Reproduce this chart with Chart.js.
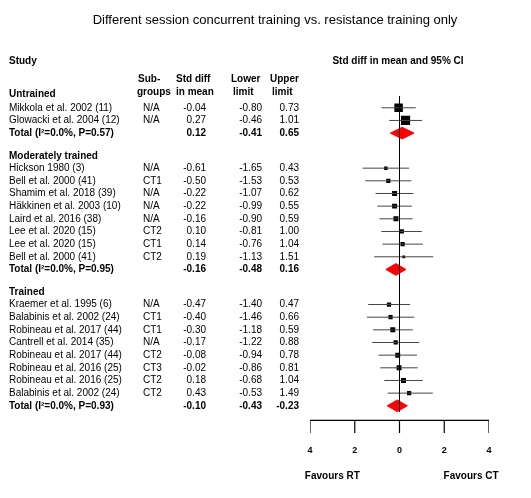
<!DOCTYPE html><html><head><meta charset="utf-8">
<script src="https://cdn.jsdelivr.net/npm/chart.js@4"></script>
<style>html,body{margin:0;background:#fff}#w{width:531px;height:498px}</style></head><body><div id="w"><canvas id="c"></canvas></div>
<script>
const studies=["Mikkola et al. 2002 (11)","Glowacki et al. 2004 (12)","Hickson 1980 (3)","Bell et al. 2000 (41)","Shamim et al. 2018 (39)","Häkkinen et al. 2003 (10)","Laird et al. 2016 (38)","Lee et al. 2020 (15)","Lee et al. 2020 (15)","Bell et al. 2000 (41)","Kraemer et al. 1995 (6)","Balabinis et al. 2002 (24)","Robineau et al. 2017 (44)","Cantrell et al. 2014 (35)","Robineau et al. 2017 (44)","Robineau et al. 2016 (25)","Robineau et al. 2016 (25)","Balabinis et al. 2002 (24)"];
const subgroups=["N/A","N/A","N/A","CT1","N/A","N/A","N/A","CT2","CT1","CT2","N/A","CT1","CT1","N/A","CT2","CT3","CT2","CT2"];
const smd=[-0.04,0.27,-0.61,-0.50,-0.22,-0.22,-0.16,0.10,0.14,0.19,-0.47,-0.40,-0.30,-0.17,-0.08,-0.02,0.18,0.43];
const lower=[-0.80,-0.46,-1.65,-1.53,-1.07,-0.99,-0.90,-0.81,-0.76,-1.13,-1.40,-1.46,-1.18,-1.22,-0.94,-0.86,-0.68,-0.53];
const upper=[0.73,1.01,0.43,0.53,0.62,0.55,0.59,1.00,1.04,1.51,0.47,0.66,0.59,0.88,0.78,0.81,1.04,1.49];
const sizes=[12,13,5,6,7,7,7,6,6,4,6,6,7,6,7,7,7,6];
const rows=[104,117,166,179,192,205,218,231,244,257,306,319,332,345,358,371,384,397];
const groups=["Untrained","Moderately trained","Trained"];
const groupRows=[90,154,293];
const totLabels=["Total (I\u00b2=0.0%, P=0.57)","Total (I\u00b2=0.0%, P=0.95)","Total (I\u00b2=0.0%, P=0.93)"];
const totSmd=[0.12,-0.16,-0.10];
const totLow=[-0.41,-0.48,-0.43];
const totUp=[0.65,0.16,-0.23];
const totRows=[130,270,410];
const ticks=[-4,-2,0,2,4];
const tickLabels=["4","2","0","2","4"];

const ds=[];
ds.push({type:'line',data:[{x:0,y:92},{x:0,y:416}],borderColor:'#000',borderWidth:1,pointRadius:0});
studies.forEach((s,i)=>ds.push({type:'line',data:[{x:lower[i],y:rows[i]},{x:upper[i],y:rows[i]}],borderColor:'#444',borderWidth:1,pointRadius:0}));
ds.push({type:'scatter',data:smd.map((v,i)=>({x:v,y:rows[i]})),pointStyle:'rect',pointRadius:sizes.map(s=>s/2),backgroundColor:'#000',borderColor:'#000',borderWidth:0});
totSmd.forEach((v,i)=>{
 const lo=Math.min(totLow[i],v-0.45),hi=Math.max(totUp[i],v+0.45);
 ds.push({type:'line',data:[{x:lo,y:totRows[i]},{x:v,y:totRows[i]-6},{x:hi,y:totRows[i]},{x:v,y:totRows[i]+6},{x:lo,y:totRows[i]}],borderColor:'#f00',backgroundColor:'#f00',fill:'shape',borderWidth:1,pointRadius:0,tension:0});});
ds.push({type:'line',data:[{x:-4,y:425},{x:4,y:425}],borderColor:'#000',borderWidth:1.2,pointRadius:0});
ticks.forEach(t=>ds.push({type:'line',data:[{x:t,y:425},{x:t,y:438}],borderColor:'#000',borderWidth:1.2,pointRadius:0}));

const textPlugin={id:'txt',afterDraw(ch){const c=ch.ctx,X=ch.scales.x,Y=ch.scales.y;c.save();c.fillStyle='#000';c.textBaseline='middle';
 const F=(b,s)=>c.font=(b?'bold ':'')+(s||10)+'px "Liberation Sans", Arial, sans-serif';
 const T=(t,x,y,a,b,s)=>{F(b,s);c.textAlign=a||'left';c.fillText(t,x,Y.getPixelForValue(y));};
 T("Different session concurrent training vs. resistance training only",275,14,'center',false,13);
 T("Study",9,56,'left',true);T("Std diff in mean and 95% CI",398,56,'center',true);
 T("Sub-",138,75,'left',true);T("groups",137,88,'left',true);
 T("Std diff",176,75,'left',true);T("in mean",176,88,'left',true);
 T("Lower",231,75,'left',true);T("limit",233,88,'left',true);
 T("Upper",270,75,'left',true);T("limit",272,88,'left',true);
 groups.forEach((g,i)=>T(g,9,groupRows[i],'left',true));
 studies.forEach((s,i)=>{T(s,9,rows[i]);T(subgroups[i],143,rows[i]);T(smd[i].toFixed(2),206,rows[i],'right');T(lower[i].toFixed(2),262,rows[i],'right');T(upper[i].toFixed(2),299,rows[i],'right');});
 totLabels.forEach((s,i)=>{T(s,9,totRows[i],'left',true);T(totSmd[i].toFixed(2),206,totRows[i],'right',true);T(totLow[i].toFixed(2),262,totRows[i],'right',true);T(totUp[i].toFixed(2),299,totRows[i],'right',true);});
 ticks.forEach((t,i)=>{F(true,9);c.textAlign='center';c.fillText(tickLabels[i],X.getPixelForValue(t),Y.getPixelForValue(456));});
 T("Favours RT",X.getPixelForValue(-3),482,'center',true);T("Favours CT",X.getPixelForValue(3.2),482,'center',true);
 c.restore();}};

new Chart(document.getElementById('c'),{data:{datasets:ds},plugins:[textPlugin],
 options:{responsive:true,maintainAspectRatio:false,animation:false,events:[],
 layout:{padding:{left:310,right:42,top:0,bottom:0}},
 plugins:{legend:{display:false},tooltip:{enabled:false}},
 scales:{x:{type:'linear',min:-4,max:4,display:false},y:{type:'linear',min:0,max:498,reverse:true,display:false}}}});
</script></body></html>
